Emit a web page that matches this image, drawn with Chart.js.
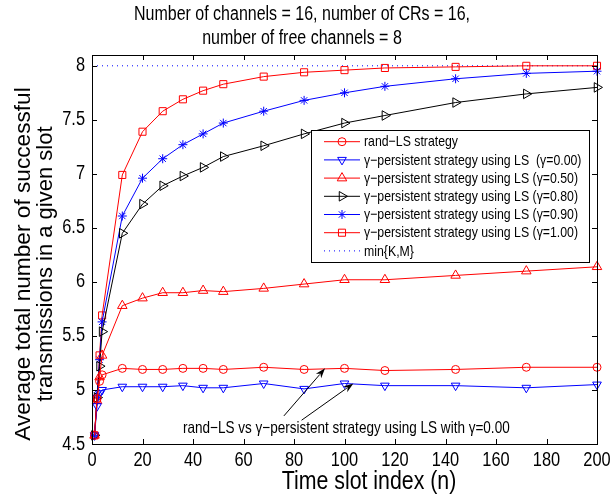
<!DOCTYPE html>
<html>
<head>
<meta charset="utf-8">
<script src="https://cdn.jsdelivr.net/npm/chart.js@4.4.0/dist/chart.umd.min.js"></script>
<style>
body { margin: 0; background: #fff; }
#wrap { width: 613px; height: 496px; position: relative; }
</style>
</head>
<body>
<div id="wrap"><canvas id="myChart"></canvas></div>
<script>
// time slot indices where the curves were sampled
var slots = [1, 2, 3, 4, 12, 20, 28, 36, 44, 52, 68, 84, 100, 116, 144, 172, 200];

var randLS = [4.58, 4.92, 5.08, 5.14, 5.20, 5.19, 5.19, 5.20, 5.20, 5.19, 5.21, 5.19, 5.20, 5.18, 5.19, 5.21, 5.21];
var gamma000 = [4.58, 4.85, 4.97, 5.00, 5.03, 5.03, 5.03, 5.04, 5.02, 5.02, 5.06, 5.01, 5.06, 5.04, 5.04, 5.02, 5.05];
var gamma050 = [4.58, 4.90, 5.12, 5.32, 5.78, 5.85, 5.90, 5.90, 5.92, 5.91, 5.94, 5.98, 6.02, 6.02, 6.06, 6.10, 6.14];
var gamma080 = [4.58, 4.93, 5.22, 5.54, 6.45, 6.72, 6.89, 6.98, 7.06, 7.16, 7.26, 7.37, 7.47, 7.54, 7.66, 7.74, 7.80];
var gamma090 = [4.58, 4.95, 5.28, 5.63, 6.61, 6.96, 7.14, 7.27, 7.37, 7.47, 7.58, 7.68, 7.75, 7.81, 7.88, 7.93, 7.95];
var gamma100 = [4.58, 4.92, 5.32, 5.69, 6.99, 7.39, 7.58, 7.69, 7.77, 7.83, 7.90, 7.94, 7.96, 7.98, 7.99, 8.00, 8.00];
var minKM = 8;

var xTicks = [0, 20, 40, 60, 80, 100, 120, 140, 160, 180, 200];
var yTicks = [4.5, 5, 5.5, 6, 6.5, 7, 7.5, 8];

var seriesNames = [
	"rand\u2212LS strategy",
	"\u03b3\u2212persistent strategy using LS  (\u03b3=0.00)",
	"\u03b3\u2212persistent strategy using LS (\u03b3=0.50)",
	"\u03b3\u2212persistent strategy using LS (\u03b3=0.80)",
	"\u03b3\u2212persistent strategy using LS (\u03b3=0.90)",
	"\u03b3\u2212persistent strategy using LS (\u03b3=1.00)",
	"min{K,M}"
];

var FONT = '"Liberation Sans", Arial, sans-serif';
var SQUEEZE = 0.82;   // text in the picture is tall and narrow

function pts(vals) {
	return vals.map(function(v, i) { return {x: slots[i], y: v}; });
}

function series(label, vals, color, style, rot, r) {
	return {
		label: label,
		data: pts(vals),
		borderColor: color,
		borderWidth: 1,
		pointStyle: style,
		pointRotation: rot,
		pointRadius: r,
		pointBorderColor: color,
		pointBackgroundColor: 'rgba(0,0,0,0)',
		pointBorderWidth: 1,
		fill: false,
		tension: 0,
		clip: false
	};
}

var datasets = [
	series(seriesNames[0], randLS, '#ff0000', 'circle', 0, 4),
	series(seriesNames[1], gamma000, '#0000ff', 'triangle', 180, 5),
	series(seriesNames[2], gamma050, '#ff0000', 'triangle', 0, 5.5),
	series(seriesNames[3], gamma080, '#000000', 'triangle', 90, 5.5),
	series(seriesNames[4], gamma090, '#0000ff', 'star', 0, 4.5),
	series(seriesNames[5], gamma100, '#ff0000', 'rect', 0, 5),
	{
		label: seriesNames[6],
		data: [{x: 0, y: minKM}, {x: 200, y: minKM}],
		borderColor: '#0000ff',
		borderWidth: 1,
		borderDash: [1, 4],
		pointRadius: 0,
		fill: false,
		clip: false
	}
];

// squeezed text helper
function txt(ctx, s, x, y, size, align, k) {
	ctx.save();
	ctx.translate(x, y);
	ctx.scale(k || SQUEEZE, 1);
	ctx.font = size + 'px ' + FONT;
	ctx.textAlign = align || 'left';
	ctx.textBaseline = 'middle';
	ctx.fillStyle = '#000';
	ctx.fillText(s, 0, 0);
	ctx.restore();
}

function arrow(ctx, x1, y1, x2, y2) {
	var ang = Math.atan2(y2 - y1, x2 - x1);
	var len = 10, hw = 3.5;
	var c = Math.cos(ang), s = Math.sin(ang);
	ctx.beginPath();
	ctx.moveTo(x1, y1);
	ctx.lineTo(x2 - c * len * 0.8, y2 - s * len * 0.8);
	ctx.stroke();
	ctx.beginPath();
	ctx.moveTo(x2, y2);
	ctx.lineTo(x2 - c * len - s * hw, y2 - s * len + c * hw);
	ctx.lineTo(x2 - c * len * 0.7, y2 - s * len * 0.7);
	ctx.lineTo(x2 - c * len + s * hw, y2 - s * len - c * hw);
	ctx.closePath();
	ctx.fill();
}

var extras = {
	id: 'extras',
	afterDatasetsDraw: function(chart) {
		var ctx = chart.ctx, a = chart.chartArea;
		var sx = chart.scales.x, sy = chart.scales.y;
		ctx.save();
		ctx.strokeStyle = '#000';
		ctx.lineWidth = 1;
		ctx.strokeRect(Math.round(a.left) + 0.5, Math.round(a.top) + 0.5,
			Math.round(a.right - a.left), Math.round(a.bottom - a.top));
		ctx.beginPath();
		xTicks.forEach(function(t) {
			var px = Math.round(sx.getPixelForValue(t)) + 0.5;
			ctx.moveTo(px, a.bottom); ctx.lineTo(px, a.bottom - 5);
			ctx.moveTo(px, a.top); ctx.lineTo(px, a.top + 5);
		});
		yTicks.forEach(function(t) {
			var py = Math.round(sy.getPixelForValue(t)) + 0.5;
			ctx.moveTo(a.left, py); ctx.lineTo(a.left + 5, py);
			ctx.moveTo(a.right, py); ctx.lineTo(a.right - 5, py);
		});
		ctx.stroke();
		ctx.restore();

		// tick labels
		xTicks.forEach(function(t) {
			txt(ctx, String(t), sx.getPixelForValue(t), a.bottom + 16, 20, 'center');
		});
		yTicks.forEach(function(t) {
			txt(ctx, String(t), a.left - 7, sy.getPixelForValue(t), 20, 'right');
		});
	},
	afterDraw: function(chart) {
		var ctx = chart.ctx;
		var sx = chart.scales.x, sy = chart.scales.y;
		ctx.save();
		ctx.fillStyle = '#000';
		ctx.strokeStyle = '#000';

		// title
		txt(ctx, 'Number of channels = 16, number of CRs = 16,', 302, 15, 19.5, 'center');
		txt(ctx, 'number of free channels = 8', 302, 39, 19.5, 'center');

		// x axis label
		txt(ctx, 'Time slot index (n)', 369, 482, 26, 'center');

		// y axis label
		ctx.save();
		ctx.translate(0, 264);
		ctx.rotate(-Math.PI / 2);
		txt(ctx, 'Average total number of successful', 0, 24, 22, 'center', 1.03);
		txt(ctx, 'transmissions in a given slot', 0, 46, 22, 'center', 1.0);
		ctx.restore();

		// annotation
		txt(ctx, 'rand\u2212LS vs \u03b3\u2212persistent strategy using LS with \u03b3=0.00',
			sx.getPixelForValue(36), sy.getPixelForValue(4.645), 16.5, 'left');
		ctx.lineWidth = 1;
		arrow(ctx, sx.getPixelForValue(76), sy.getPixelForValue(4.76), sx.getPixelForValue(92.3), sy.getPixelForValue(5.20));
		arrow(ctx, sx.getPixelForValue(83), sy.getPixelForValue(4.72), sx.getPixelForValue(103.5), sy.getPixelForValue(5.06));

		// legend box
		var lx = 311, ly = 130, lw = 278, lh = 132;
		ctx.fillStyle = '#fff';
		ctx.fillRect(lx, ly, lw, lh);
		ctx.strokeStyle = '#000';
		ctx.strokeRect(lx + 0.5, ly + 0.5, lw, lh);
		chart.data.datasets.forEach(function(ds, i) {
			var yy = 141.7 + i * 18.2;
			ctx.save();
			ctx.strokeStyle = ds.borderColor;
			ctx.lineWidth = 1;
			if (ds.borderDash) ctx.setLineDash(ds.borderDash);
			ctx.beginPath();
			ctx.moveTo(324, yy);
			ctx.lineTo(360, yy);
			ctx.stroke();
			ctx.setLineDash([]);
			if (ds.pointRadius) {
				ctx.fillStyle = 'rgba(0,0,0,0)';
				Chart.helpers.drawPoint(ctx, {
					pointStyle: ds.pointStyle,
					rotation: ds.pointRotation,
					radius: ds.pointRadius,
					borderWidth: 1
				}, 342, yy);
			}
			ctx.restore();
			txt(ctx, ds.label, 364, yy + 0.5, 15, 'left');
		});
		ctx.restore();
	}
};

var ctx = document.getElementById('myChart');

var myChart = new Chart(ctx, {
	type: 'line',
	data: {datasets: datasets},
	options: {
		responsive: true,
		maintainAspectRatio: false,
		animation: false,
		layout: {padding: {left: 0, top: 55, right: 16, bottom: 0}},
		plugins: {
			legend: {display: false},
			tooltip: {enabled: false},
			title: {display: false}
		},
		scales: {
			x: {
				type: 'linear',
				min: 0,
				max: 200,
				afterBuildTicks: function(s) { s.ticks = xTicks.map(function(v) { return {value: v}; }); },
				afterFit: function(s) { s.height = 52; },
				grid: {display: false},
				border: {display: false},
				ticks: {display: false}
			},
			y: {
				type: 'linear',
				min: 4.5,
				max: 8.1,
				afterBuildTicks: function(s) { s.ticks = yTicks.map(function(v) { return {value: v}; }); },
				afterFit: function(s) { s.width = 92; },
				grid: {display: false},
				border: {display: false},
				ticks: {display: false}
			}
		}
	},
	plugins: [extras]
});
</script>
</body>
</html>
